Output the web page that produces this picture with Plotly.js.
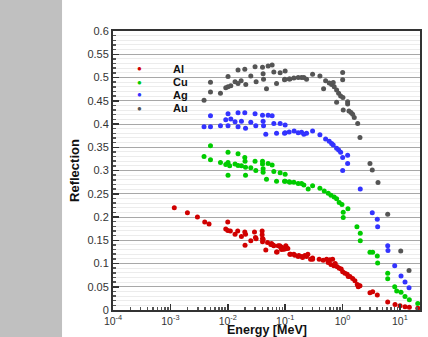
<!DOCTYPE html>
<html>
<head>
<meta charset="utf-8">
<script src="https://cdn.plot.ly/plotly-3.0.1.min.js"></script>
<style>html,body{margin:0;padding:0;background:#fff;}#chart{width:428px;height:337px;}</style>
</head>
<body>
<div id="chart"></div>
<script>
// Energy in MeV, reflection coefficient
const seriesNames = ["Al", "Cu", "Ag", "Au"];
const seriesColors = ["#d00000", "#00cc00", "#3333ff", "#555555"];

const alEnergy = [0.00117,0.00198,0.00296,0.00397,0.00472,0.01,0.00923,0.01,0.0111,0.0134,0.0149,0.0173,0.0198,0.0204,0.02,0.0252,0.0292,0.0304,0.0312,0.0397,0.0397,0.0403,0.0403,0.0413,0.046,0.0493,0.0562,0.0579,0.0618,0.0635,0.0708,0.0724,0.0755,0.0807,0.0832,0.0865,0.0875,0.0923,0.0948,0.0989,0.1028,0.1057,0.1114,0.1208,0.1242,0.1419,0.1476,0.1687,0.1734,0.2014,0.1959,0.2208,0.236,0.2489,0.2773,0.3006,0.3006,0.3917,0.4603,0.5272,0.5623,0.6026,0.6281,0.6714,0.7079,0.7464,0.8091,0.877,0.9484,1.005,1.102,1.208,1.259,1.346,1.5,1.644,1.807,1.879,1.932,2.014,3.006,3.35,4.036,6.124,8.222,10.05,12.27,14.59,20.46];
const alRefl = [0.220,0.209,0.200,0.189,0.185,0.189,0.174,0.171,0.170,0.163,0.170,0.158,0.168,0.163,0.139,0.149,0.168,0.156,0.153,0.170,0.162,0.154,0.147,0.152,0.129,0.145,0.141,0.143,0.140,0.138,0.125,0.125,0.138,0.138,0.135,0.130,0.135,0.131,0.131,0.131,0.138,0.134,0.132,0.120,0.120,0.120,0.118,0.115,0.117,0.113,0.115,0.117,0.115,0.120,0.109,0.112,0.109,0.109,0.107,0.109,0.102,0.108,0.098,0.109,0.095,0.100,0.093,0.090,0.088,0.082,0.079,0.077,0.072,0.072,0.068,0.063,0.055,0.050,0.052,0.052,0.037,0.039,0.032,0.017,0.012,0.009,0.007,0.006,0.004];

const cuEnergy = [0.005,0.00386,0.005,0.00746,0.00923,0.0101,0.0101,0.0108,0.0101,0.0134,0.0151,0.0151,0.0173,0.0198,0.02,0.0204,0.0204,0.0252,0.0299,0.0308,0.0403,0.0403,0.0413,0.0413,0.0473,0.0505,0.0593,0.0635,0.0708,0.0818,0.1,0.1,0.1175,0.1419,0.1687,0.0975,0.1208,0.1932,0.2118,0.2518,0.3006,0.4036,0.4797,0.5636,0.6281,0.7161,0.7889,0.875,0.9772,1.028,1.028,1.242,1.782,2.037,2.037,3.006,3.35,4.036,4.093,6.124,6.124,8.11,8.79,10.45,12.27,14.59,20.46];
const cuRefl = [0.353,0.330,0.323,0.317,0.313,0.339,0.317,0.310,0.290,0.314,0.336,0.311,0.310,0.328,0.320,0.307,0.290,0.306,0.320,0.300,0.320,0.314,0.304,0.296,0.281,0.315,0.312,0.298,0.277,0.295,0.292,0.277,0.276,0.275,0.272,0.277,0.275,0.272,0.269,0.260,0.267,0.262,0.256,0.251,0.247,0.243,0.239,0.231,0.227,0.210,0.199,0.218,0.179,0.165,0.149,0.124,0.124,0.116,0.101,0.079,0.067,0.050,0.041,0.038,0.029,0.022,0.014];

const agEnergy = [0.00386,0.005,0.005,0.00746,0.00923,0.0101,0.0101,0.0113,0.0134,0.0151,0.0151,0.0173,0.0198,0.0204,0.0252,0.0299,0.0308,0.0403,0.0413,0.0420,0.0460,0.0505,0.0593,0.0635,0.0708,0.0818,0.1,0.1,0.0975,0.1175,0.1435,0.1687,0.1932,0.2118,0.236,0.3006,0.4036,0.507,0.5861,0.6457,0.6887,0.7889,0.8551,0.9268,1.005,1.227,1.227,1.005,2.037,3.296,4.036,4.093,6.124,6.194,8.11,10.45,12.27,14.42];
const agRefl = [0.394,0.394,0.418,0.396,0.409,0.422,0.396,0.411,0.405,0.424,0.394,0.406,0.424,0.391,0.404,0.422,0.396,0.419,0.406,0.396,0.378,0.419,0.418,0.401,0.380,0.401,0.398,0.381,0.380,0.383,0.385,0.381,0.382,0.378,0.380,0.385,0.377,0.368,0.363,0.358,0.355,0.348,0.344,0.339,0.328,0.333,0.315,0.300,0.260,0.209,0.195,0.179,0.138,0.128,0.095,0.073,0.060,0.048];

const auEnergy = [0.00386,0.005,0.005,0.00746,0.00923,0.0101,0.0101,0.0113,0.0134,0.0151,0.0151,0.0171,0.0198,0.0206,0.0252,0.0299,0.0312,0.0403,0.0413,0.0420,0.0473,0.0505,0.0593,0.0635,0.0708,0.0818,0.1,0.0989,0.1175,0.1419,0.0975,0.1208,0.1687,0.1932,0.2118,0.236,0.3006,0.4036,0.4677,0.507,0.5861,0.6457,0.6887,0.7161,0.7889,0.8551,0.7889,0.9268,1.005,1.005,1.016,1.028,1.227,1.227,1.294,1.403,1.5,1.6,1.837,2.014,3.006,3.296,4.15,6.124,10.33,14.42];
const auRefl = [0.451,0.490,0.469,0.466,0.478,0.502,0.480,0.482,0.491,0.516,0.487,0.493,0.518,0.485,0.503,0.523,0.491,0.522,0.508,0.496,0.476,0.525,0.527,0.512,0.487,0.510,0.514,0.496,0.497,0.499,0.495,0.497,0.500,0.500,0.500,0.496,0.507,0.503,0.476,0.493,0.488,0.485,0.489,0.480,0.473,0.466,0.447,0.460,0.511,0.495,0.457,0.430,0.448,0.443,0.428,0.425,0.421,0.414,0.401,0.371,0.315,0.301,0.274,0.206,0.127,0.085];

const xTickVals = [1e-4, 1e-3, 1e-2, 1e-1, 1, 10];
const xTickText = ["10<sup>-4</sup>","10<sup>-3</sup>","10<sup>-2</sup>","10<sup>-1</sup>","10<sup>0</sup>","10<sup>1</sup>"];
const xTitle = "Energy [MeV]";
const yTitle = "Reflection";

const energies = [alEnergy, cuEnergy, agEnergy, auEnergy];
const refls = [alRefl, cuRefl, agRefl, auRefl];

const FONT = "Liberation Sans, Arial, Helvetica, sans-serif";

const traces = seriesNames.map((n, i) => ({
  type: "scatter", mode: "markers", name: n,
  x: energies[i], y: refls[i],
  marker: {color: seriesColors[i], size: 5},
  showlegend: false, cliponaxis: true
}));

// legend drawn as annotations (compact spacing like the reference)
const legY = [0.864, 0.817, 0.771, 0.724];
const annotations = [];
seriesNames.forEach((n, i) => {
  annotations.push({xref:"paper", yref:"paper", x:0.085, y:legY[i], text:"●", showarrow:false,
    xanchor:"center", yanchor:"middle", font:{family:FONT, size:8, color:seriesColors[i]}});
  annotations.push({xref:"paper", yref:"paper", x:0.19, y:legY[i], text:"<b>"+n+"</b>", showarrow:false,
    xanchor:"left", yanchor:"middle", font:{family:FONT, size:11, color:"#111"}});
});
// x-axis title placed below the tick labels (margin too small for the built-in title)
annotations.push({xref:"paper", yref:"paper", x:0.5, y:-0.073, text:"<b>"+xTitle+"</b>", showarrow:false,
  xanchor:"center", yanchor:"middle", font:{family:FONT, size:12.5, color:"#111"}});

const layout = {
  width: 428, height: 337,
  margin: {l:113, r:8, t:31, b:27},
  paper_bgcolor: "#ffffff", plot_bgcolor: "#ffffff",
  font: {family: FONT, size: 11, color: "#333"},
  showlegend: false,
  shapes: [
    {type:"rect", xref:"paper", yref:"paper", x0:-0.37, x1:-0.166, y0:-0.2, y1:1.2,
     fillcolor:"#c0c0c0", line:{width:0}, layer:"below"}
  ],
  annotations: annotations,
  xaxis: {
    type: "log", range: [-4, 1.35],
    tickmode: "array", tickvals: xTickVals, ticktext: xTickText,
    ticks: "inside", ticklen: 6, tickwidth: 1.5, tickcolor: "#333",
    minor: {ticks: "inside", ticklen: 3, tickcolor: "#555", dtick: "D1", showgrid: false},
    ticklabelstandoff: 0,
    showgrid: false, zeroline: false,
    showline: true, linecolor: "#333", linewidth: 2, mirror: true,
    tickfont: {family: FONT, size: 10.5, color: "#333"}
  },
  yaxis: {
    range: [0, 0.6], dtick: 0.05, tick0: 0,
    ticks: "inside", ticklen: 6, tickwidth: 1.5, tickcolor: "#333",
    showgrid: true, gridcolor: "#a8a8a8", gridwidth: 1,
    minor: {dtick: 0.01, ticks: "inside", ticklen: 3, tickcolor: "#555", showgrid: true, gridcolor: "#ececec", gridwidth: 1},
    zeroline: false,
    showline: true, linecolor: "#333", linewidth: 2, mirror: true,
    tickfont: {family: FONT, size: 11, color: "#333"},
    title: {text: "<b>" + yTitle + "</b>", font: {family: FONT, size: 13, color: "#111"}, standoff: 5}
  }
};

Plotly.newPlot("chart", traces, layout, {displayModeBar: false, staticPlot: true});
</script>
</body>
</html>
